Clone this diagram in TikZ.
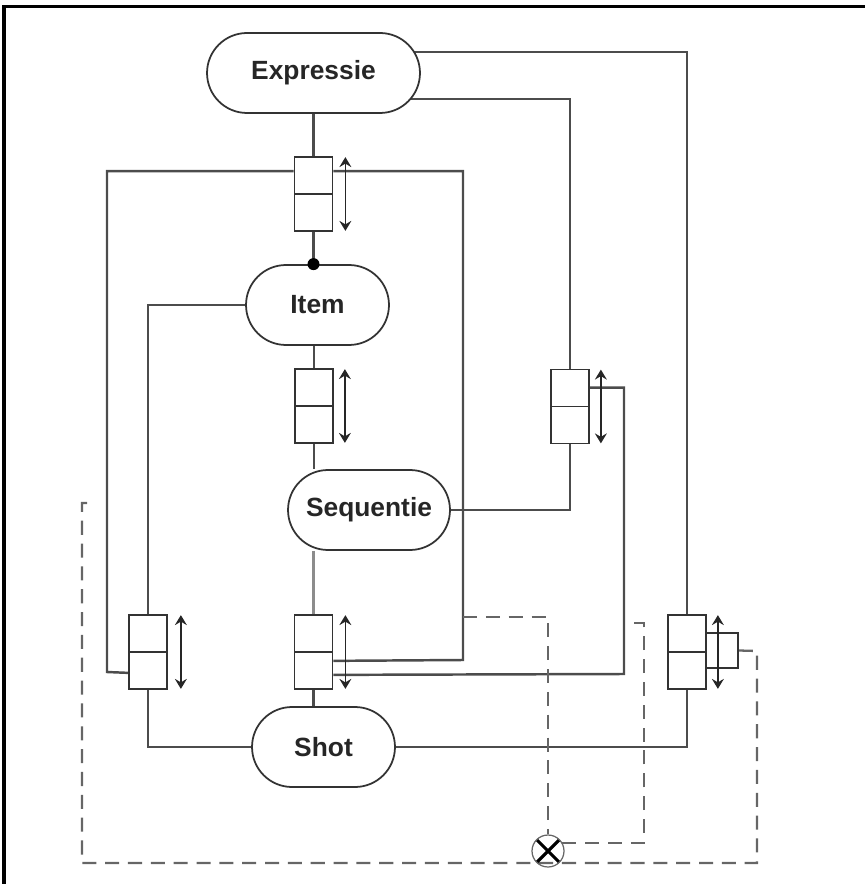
\documentclass[tikz,border=0pt]{standalone}
\usepackage{fontspec}
\setmainfont{Liberation Sans}
\usepackage{tikz}
\usetikzlibrary{arrows.meta,calc,backgrounds}
\tikzset{
  pillfont/.style={font=\fontsize{15}{18}\selectfont\bfseries},
  pill/.style={rectangle, rounded corners=0.8cm, draw=black!80, fill=white, line width=1pt, minimum height=1.6cm, inner sep=0pt, text=black!85, pillfont},
  slot/.style={rectangle, draw=black!80, fill=white, line width=1pt, minimum width=0.76cm, minimum height=1.48cm, inner sep=0pt,
    path picture={\draw[black!80, line width=1pt] (path picture bounding box.west) -- (path picture bounding box.east);}},
  sidebox/.style={rectangle, draw=black!80, fill=white, line width=1pt, minimum width=0.64cm, minimum height=0.7cm, inner sep=0pt},
  mulnode/.style={circle, draw=black!60, line width=0.7pt, minimum size=0.64cm, inner sep=0pt,
    path picture={\draw[black, line width=1.8pt] (path picture bounding box.south west) -- (path picture bounding box.north east)
      (path picture bounding box.north west) -- (path picture bounding box.south east);}},
  conn/.style={line width=1.4pt, draw=black!70},
  lightconn/.style={line width=1.4pt, draw=black!45},
  dashline/.style={line width=1.3pt, draw=black!60, dash pattern=on 8pt off 5pt},
  slide/.style={{Stealth[length=2mm,width=2.4mm,inset=0.7mm]}-{Stealth[length=2mm,width=2.4mm,inset=0.7mm]}, line width=0.9pt, draw=black!85},
  frame/.style={line width=2pt, draw=black},
}
\begin{document}
\begin{tikzpicture}[x=0.02cm, y=-0.02cm]
  \useasboundingbox (0,0) rectangle (865,884);
  \draw[frame] (4,884) -- (4,6.5) -- (865,6.5);

  % concepts
  \node[pill, minimum width=4.26cm] (expr) at (313.5,73) {Expressie};
  \node[pill, minimum width=2.86cm] (item) at (317.5,305) {Item};
  \node[pill, minimum width=3.24cm] (seq) at (369,510) {Sequentie};
  \node[pill, minimum width=2.86cm] (shot) at (323.5,747) {Shot};

  % link tables
  \node[slot] (b1) at (313.5,194) {};
  \node[slot] (b4) at (314,406) {};
  \node[slot] (b2) at (148,652) {};
  \node[slot] (b3) at (313.5,652) {};
  \node[slot] (b5) at (570,406.5) {};
  \node[slot] (b6) at (687,652) {};
  \node[sidebox] (b6s) at (722,650.5) {};

  \node[mulnode] (mul) at (548,851) {};
  \coordinate (tap) at (463,617);
  \coordinate (stubA) at (633,623);
  \coordinate (stubB) at (95,503);

  \foreach \b/\dx in {b1/12,b4/11,b2/13,b3/12,b5/11,b6/11}
    \draw[slide] ($(\b.north east)+(\dx,1)$) -- ($(\b.south east)+(\dx,-1)$);
  \fill[black] (b1.south |- item.north) circle (6);

  \begin{scope}[on background layer]
    \draw[conn] (expr.south) -- (b1.north);
    \draw[conn] (b1.south) -- (b1.south |- item.north);
    \draw[conn] ($(b1.north west)+(0,15)$) -| (107,672) -- ($(b2.south west)+(0,-17)$);
    \draw[conn] ($(b1.north east)+(0,15)$) -| (463,660) -- ($(b3.south east)+(0,-29)$);
    \draw[conn] (expr.center |- 0,52) -| (b6.north);
    \draw[conn] (expr.center |- 0,99) -| (b5.north);
    \draw[conn] (item.west) -| (b2.north);
    \draw[conn] (b4.north |- item.south) -- (b4.north);
    \draw[conn] (b4.south) -- (b4.south |- seq.north);
    \draw[conn] (seq.east) -| (b5.south);
    \draw[lightconn] (b3.north |- seq.south) -- (b3.north);
    \draw[conn] (b3.south) -- (b3.south |- shot.north);
    \draw[conn] (b2.south) |- (shot.west);
    \draw[conn] (shot.east) -| (b6.south);
    \draw[conn] ($(b5.north east)+(0,19)$) -| (624,674) -- ($(b3.south east)+(0,-15)$);
    % control
    \draw[dashline] (tap) -| (mul.north);
    \draw[dashline] (mul.30) -| (644,623) -- (stubA);
    \draw[dashline] (b6s.east) -- (757,651) |- (82,863) -- (82,503) -- (stubB);
  \end{scope}
\end{tikzpicture}
\end{document}
